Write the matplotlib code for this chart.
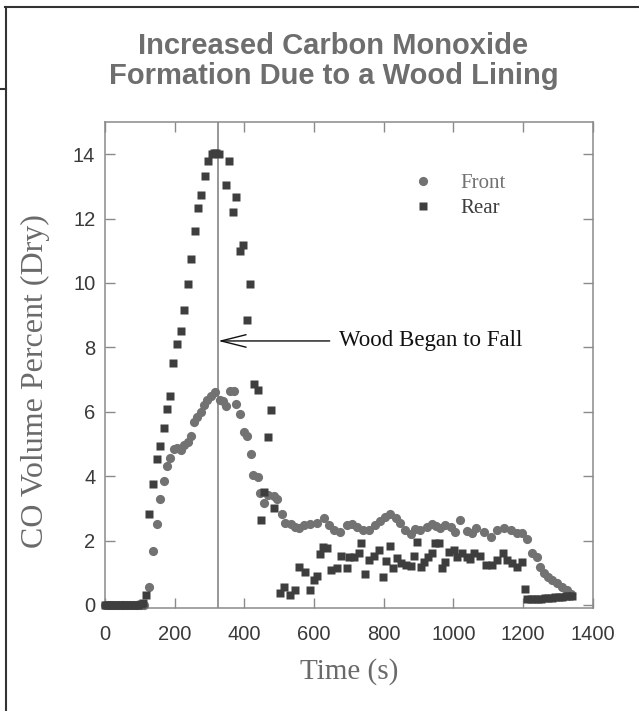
import matplotlib
matplotlib.use("Agg")
import matplotlib.pyplot as plt
from matplotlib.lines import Line2D

# Front probe (circles): time (s), CO volume percent
front_t = [0, 8, 16, 24, 32, 40, 48, 56, 64, 72, 80, 88, 96, 104, 112,
           127, 137, 148, 158, 168, 177, 187, 198, 208, 217, 227, 237, 246, 256, 265,
           275, 285, 294, 305, 316, 329, 338, 348, 359, 369, 376, 388, 398, 407, 419,
           426, 438, 445, 455, 469, 484, 495, 508, 517, 534, 546, 556, 570, 589, 608,
           628, 642, 656, 675, 695, 709, 723, 742, 757, 776, 790, 805, 819, 834, 848,
           862, 877, 891, 905, 925, 939, 951, 963, 977, 992, 1006, 1020, 1040, 1054, 1065,
           1087, 1107, 1126, 1145, 1164, 1183, 1198, 1212, 1227, 1239, 1248, 1260, 1271, 1284, 1298,
           1313, 1325, 1337]
front_v = [0, 0, 0, 0, 0, 0, 0, 0, 0, 0, 0, 0, 0, 0, 0,
           0.57, 1.67, 2.51, 3.29, 3.85, 4.31, 4.58, 4.83, 4.89, 4.81, 4.96, 5.06, 5.24, 5.68, 5.84,
           5.99, 6.20, 6.38, 6.48, 6.61, 6.38, 6.33, 6.17, 6.64, 6.64, 6.23, 5.94, 5.37, 5.25, 4.70,
           4.03, 3.98, 3.48, 3.17, 3.41, 3.38, 3.28, 2.82, 2.55, 2.52, 2.43, 2.40, 2.48, 2.51, 2.55,
           2.69, 2.48, 2.33, 2.27, 2.48, 2.53, 2.43, 2.33, 2.33, 2.48, 2.61, 2.72, 2.82, 2.69, 2.55,
           2.33, 2.20, 2.35, 2.33, 2.43, 2.53, 2.45, 2.38, 2.48, 2.41, 2.27, 2.64, 2.31, 2.22, 2.38,
           2.27, 2.12, 2.33, 2.38, 2.33, 2.24, 2.22, 2.04, 1.60, 1.48, 1.19, 0.98, 0.88, 0.78, 0.67,
           0.57, 0.47, 0.34]

# Rear probe (squares)
rear_t = [0, 8, 16, 24, 32, 40, 48, 56, 64, 72, 80, 88, 96, 104, 110,
          118, 127, 137, 148, 158, 168, 177, 187, 196, 208, 217, 227, 237, 247, 257,
          267, 276, 288, 297, 306, 313, 320, 328, 348, 357, 368, 376, 387, 397, 407,
          417, 428, 438, 447, 457, 467, 477, 486, 503, 515, 530, 546, 558, 575, 589,
          599, 608, 616, 626, 637, 649, 666, 677, 695, 700, 714, 728, 736, 747, 757,
          771, 786, 798, 808, 817, 827, 838, 850, 865, 877, 886, 896, 907, 917, 927,
          939, 946, 958, 968, 977, 987, 1001, 1011, 1025, 1040, 1049, 1059, 1075, 1095, 1111,
          1126, 1143, 1155, 1169, 1183, 1198, 1207, 1212, 1222, 1232, 1242, 1252, 1262, 1272, 1282,
          1292, 1302, 1312, 1322, 1332, 1341]
rear_v = [0, 0, 0, 0, 0, 0, 0, 0, 0, 0, 0, 0, 0, 0.02, 0.05,
          0.30, 2.84, 3.75, 4.52, 4.93, 5.51, 6.10, 6.50, 7.51, 8.11, 8.50, 9.15, 9.97, 10.74, 11.62,
          12.34, 12.73, 13.33, 13.80, 14.00, 14.03, 14.03, 14.00, 13.04, 13.80, 12.22, 12.68, 11.00, 11.19, 8.86,
          9.97, 6.85, 6.67, 2.64, 3.51, 5.22, 6.07, 3.02, 0.36, 0.57, 0.30, 0.48, 1.19, 1.03, 0.47,
          0.78, 0.90, 1.58, 1.81, 1.76, 1.10, 1.16, 1.52, 1.14, 1.48, 1.48, 1.60, 1.93, 0.96, 1.39,
          1.52, 1.70, 0.86, 1.37, 1.83, 1.14, 1.45, 1.29, 1.24, 1.22, 1.52, 1.96, 1.17, 1.34, 1.48,
          1.60, 1.91, 1.91, 1.14, 1.34, 1.65, 1.70, 1.50, 1.62, 1.48, 1.42, 1.60, 1.52, 1.24, 1.24,
          1.39, 1.60, 1.39, 1.29, 1.19, 1.34, 0.49, 0.18, 0.18, 0.19, 0.20, 0.20, 0.21, 0.22, 0.23,
          0.24, 0.25, 0.26, 0.27, 0.27, 0.28]

x_ticks = [0, 200, 400, 600, 800, 1000, 1200, 1400]
y_ticks = [0, 2, 4, 6, 8, 10, 12, 14]
wood_fall_t = 325
arrow_y = 8.2
arrow_start_t = 645

FRONT_C, REAR_C, AXIS_C, LABEL_C, TICK_C = "#727272", "#3e3e3e", "#8a8a8a", "#6a6a6a", "#3a3a3a"

fig = plt.figure(figsize=(6.39, 7.11), dpi=100, facecolor="white")
ax = fig.add_axes([0.1643, 0.1446, 0.7633, 0.6838])

ax.axvline(wood_fall_t, color="#7a7a7a", lw=1.1, zorder=1)
ax.plot(front_t, front_v, "o", color=FRONT_C, ms=6.6, mec="none", clip_on=False,
        zorder=3, label="Front")
ax.plot(rear_t, rear_v, "s", color=REAR_C, ms=5.9, mec="none", clip_on=False,
        zorder=4, label="Rear")

ax.set_xlim(0, 1400)
ax.set_ylim(-0.1, 15)
ax.set_xticks(x_ticks)
ax.set_yticks(y_ticks)
ax.tick_params(direction="in", length=7, width=1, color=AXIS_C, top=True, right=True,
               labelsize=14.5, labelcolor=TICK_C, pad=7)
ax.tick_params(axis="x", pad=12)
for lb in ax.get_xticklabels() + ax.get_yticklabels():
    lb.set_family("Liberation Sans")
for sp in ax.spines.values():
    sp.set_color(AXIS_C)
    sp.set_linewidth(1.1)

ax.annotate("", xy=(wood_fall_t, arrow_y), xytext=(arrow_start_t, arrow_y),
            arrowprops=dict(arrowstyle="->,head_length=1.8,head_width=0.45",
                            color="#111111", lw=1.0, shrinkA=0, shrinkB=0))
ax.annotate("Wood Began to Fall", (arrow_start_t, arrow_y), xytext=(7, 0),
            textcoords="offset points", va="center", ha="left",
            family="Liberation Serif", fontsize=16.5, color="#111111")

leg = ax.legend(loc="upper left", bbox_to_anchor=(0.61, 0.915), frameon=False,
                prop=dict(family="Liberation Serif", size=15), handlelength=1.0,
                handletextpad=1.3, labelspacing=0.25, borderpad=0)
for txt, c in zip(leg.get_texts(), [FRONT_C, REAR_C]):
    txt.set_color(c)

ax.set_xlabel("Time (s)", family="Liberation Serif", fontsize=21, color=LABEL_C)
ax.xaxis.set_label_coords(0.5, -0.103)
ax.set_ylabel("CO Volume Percent (Dry)", family="Liberation Serif", fontsize=23,
              color=LABEL_C)
ax.yaxis.set_label_coords(-0.113, 0.467)

fig.text(0.522, 0.955, "Increased Carbon Monoxide\nFormation Due to a Wood Lining",
         ha="center", va="top", family="Liberation Sans", fontweight="bold",
         fontsize=21, color="#6e6e6e", linespacing=1.1)

# page frame
frame = dict(color="#333333", lw=1.5, transform=fig.transFigure)
fig.add_artist(Line2D([5 / 639, 1], [1 - 7 / 711, 1 - 7 / 711], **frame))
fig.add_artist(Line2D([6 / 639, 6 / 639], [0, 1 - 7 / 711], **frame))
fig.add_artist(Line2D([0, 6 / 639], [1 - 89 / 711, 1 - 89 / 711], **frame))

fig.savefig("out.png", dpi=100, facecolor="white")
